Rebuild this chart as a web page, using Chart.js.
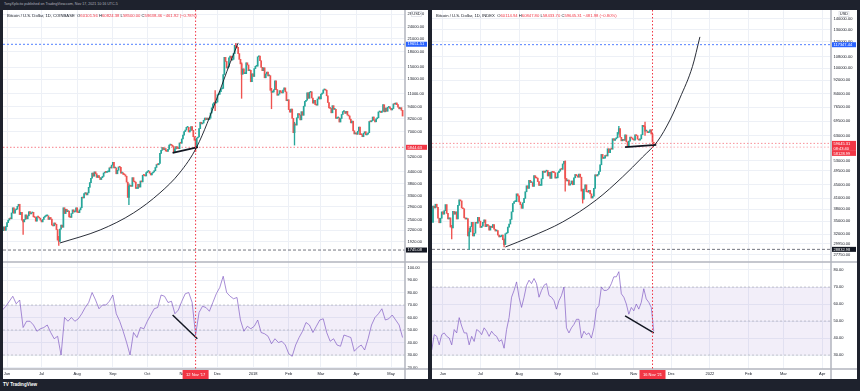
<!DOCTYPE html>
<html>
<head>
<meta charset="utf-8">
<script src="https://cdn.jsdelivr.net/npm/chart.js@4.4.0/dist/chart.umd.min.js"></script>
<style>
body{margin:0;background:#1e222d;width:860px;height:391px;overflow:hidden;position:relative;font-family:"Liberation Sans",Arial,sans-serif}
.credit{position:absolute;left:4px;top:2px;font-size:3.6px;color:#b2b5be;white-space:nowrap}
.panel{position:absolute;top:10px;width:425px;height:369px;background:#fff}
.panel canvas{position:absolute;left:0;top:0}
.legend{position:absolute;left:4px;top:2.6px;font-size:4.2px;color:#131722;white-space:nowrap}
.legend b{font-weight:normal;color:#f23645}
.logo{position:absolute;left:3px;top:382px;font-size:4.6px;color:#fff;font-weight:bold;white-space:nowrap}
</style>
</head>
<body>

<div class="credit">TonyXplicito published on TradingView.com, Nov 17, 2021 10:16 UTC-5</div>

<div class="panel" style="left:3px">
  <canvas id="leftChart" width="425" height="369"></canvas>
  <div class="legend">Bitcoin / U.S. Dollar, 1D, COINBASE&nbsp; O<b>60101.56</b> H<b>60824.38</b> L<b>58500.00</b> C<b>59638.46</b> <b>−461.92 (−0.78%)</b></div>
</div>

<div class="panel" style="left:432px">
  <canvas id="rightChart" width="425" height="369"></canvas>
  <div class="legend">Bitcoin / U.S. Dollar, 1D, INDEX&nbsp; O<b>60114.94</b> H<b>60847.80</b> L<b>58433.70</b> C<b>59645.31</b> <b>−481.98 (−0.80%)</b></div>
</div>

<div class="logo">TV TradingView</div>

<script>
// days are counted from 1 Jun of the panel's first year (day 0)

// ---- left panel: BTCUSD Coinbase, 29 May 2017 - 11 May 2018
const leftFirstDay = -3;
const leftFirstOpen = 2190;
const leftCloses = [
  2290, 2200, 2300,
  2410, 2480, 2530, 2520, 2700, 2870, 2690, 2800, 2820, 2920, 2990, 2650, 2720, 2480, 2430, 2500, 2640, 2520, 2610, 2740, 2670, 2700, 2720, 2580, 2560, 2450, 2580, 2570, 2540, 2480,
  2430, 2500, 2570, 2600, 2610, 2610, 2500, 2560, 2510, 2340, 2320, 2400, 2360, 2220, 1960, 1930, 2230, 2340, 2280, 2870, 2680, 2820, 2740, 2760, 2580, 2560, 2680, 2800, 2730, 2750, 2870,
  2720, 2710, 2800, 2870, 3250, 3220, 3390, 3420, 3340, 3420, 3650, 3860, 4060, 4320, 4160, 4380, 4280, 4100, 4190, 4090, 4000, 4090, 4150, 4320, 4360, 4350, 4380, 4380, 4590, 4580, 4740,
  4900, 4580, 4590, 4280, 4460, 4640, 4620, 4310, 4330, 4250, 4230, 4160, 3880, 3240, 3700, 3700, 3690, 4090, 3910, 3880, 3600, 3600, 3780, 3660, 3930, 3890, 4210, 4200, 4170, 4340,
  4400, 4400, 4310, 4220, 4320, 4370, 4440, 4610, 4770, 4760, 4830, 5440, 5640, 5830, 5690, 5760, 5590, 5570, 5710, 6000, 6010, 5980, 5900, 5510, 5740, 5890, 5770, 5750, 6150, 6130, 6450,
  6750, 7030, 7160, 7390, 7390, 7000, 7120, 7460, 7140, 6620, 6350, 5870, 6520, 6600, 7280, 7850, 7700, 7780, 8040, 8250, 8100, 8240, 8100, 8230, 8750, 9300, 9740, 9900, 9840, 9950,
  10850, 10900, 11250, 11620, 11680, 13750, 16850, 16050, 14850, 15060, 16730, 17080, 16300, 16450, 17600, 19400, 19040, 18950, 17600, 16450, 15600, 13800, 14700, 13900, 13900, 15800, 15400, 14400, 14460, 12640, 13880,
  13440, 14750, 15160, 15180, 16950, 17120, 16180, 14980, 14400, 14900, 13240, 13850, 14180, 13550, 13580, 11430, 11160, 11200, 11510, 12760, 11530, 10780, 10940, 11390, 11170, 11080, 11460, 11760, 11220, 10110, 10230,
  9110, 8830, 9170, 8220, 6940, 7690, 7590, 8270, 8680, 8550, 8070, 8890, 8520, 9480, 10030, 10170, 11100, 10400, 11160, 11230, 10440, 9830, 10160, 9660, 9590, 10320, 10580, 10320,
  10920, 11040, 11480, 11500, 11440, 10710, 9900, 9290, 9230, 8770, 9540, 9130, 9150, 8200, 8260, 8270, 7870, 8200, 8600, 8900, 8900, 8720, 8920, 8540, 8450, 8140, 7790, 7950, 7100, 6840, 6930,
  6810, 7060, 7420, 6790, 6780, 6620, 6900, 7020, 6770, 6830, 6940, 7920, 7890, 8000, 8350, 8060, 7890, 8170, 8280, 8860, 8920, 8800, 8940, 9650, 8870, 9280, 8930, 9350, 9400, 9240,
  9070, 9220, 9740, 9700, 9850, 9650, 9370, 9190, 9320, 9030, 8440
];
const leftWickDays = [14, 45, 106, 164, 181, 199, 204, 230, 250];
const leftWickLows = [2100, 1840, 2980, 5560, 9000, 18750, 10400, 9200, 6000];
const leftWickHighs = [2500, 2050, 3800, 6450, 11400, 19890, 15800, 11700, 7850];

const leftRsiFirstDay = -4;
const leftRsiStep = 3;
const leftRsi = [
  66, 69, 73, 77, 71, 74, 52, 57, 57, 54,
  49, 51, 52, 54, 48, 43, 45, 30, 60, 57,
  60, 57, 59, 63, 68, 72, 80, 74, 67, 70,
  70, 73, 78, 63, 57, 49, 40, 30, 48, 44,
  52, 51, 57, 62, 67, 68, 78, 77, 72, 73,
  63, 66, 73, 79, 80, 72, 46, 64, 69, 68,
  65, 72, 79, 84, 93, 80, 77, 75, 76, 58,
  49, 53, 51, 53, 58, 48, 47, 45, 39, 43,
  40, 41, 38, 31, 29, 38, 44, 49, 56, 54,
  48, 53, 58, 59, 48, 41, 43, 38, 37, 46,
  45, 44, 33, 36, 38, 34, 43, 54, 60, 63,
  67, 58, 59, 62, 58, 54, 44
];

const leftArcDays = [46, 81, 110, 133, 150, 165, 183, 194, 201];
const leftArcValues = [1896, 2210, 2700, 3420, 4320, 5870, 10580, 15780, 19960];
const leftPriceTrendDays = [144, 166];
const leftPriceTrendValues = [5470, 5860];
const leftRsiTrendDays = [144, 165.5];
const leftRsiTrendValues = [62, 43];

const leftLevels = [19651.51, 5844.63, 1745.08];
const leftPriceTicks = [28000, 24000, 21000, 18000, 15000, 13000, 11000, 9400, 8200, 7000, 5200, 4400, 3800, 3300, 2900, 2500, 2200, 1920];
const leftRsiTicks = [20, 30, 40, 50, 60, 70, 80, 90, 100];
const leftMonthDays = [0, 30, 61, 92, 122, 153, 183, 214, 245, 273, 304, 334];
const leftMonthNames = ['Jun', 'Jul', 'Aug', 'Sep', 'Oct', 'Nov', 'Dec', '2018', 'Feb', 'Mar', 'Apr', 'May'];
const leftCrossDay = 164;
const leftCrossLabel = "12 Nov '17";

// ---- right panel: BTCUSD index, 24 May 2021 - 17 Nov 2021
const rightFirstDay = -8;
const rightFirstOpen = 34700;
const rightCloses = [
  38800, 38300, 39300, 38500, 35700, 34600, 35700, 37300,
  36700, 37600, 39200, 36900, 35500, 35800, 33600, 33400, 37400, 36700, 37300, 35500, 39000, 40500, 40200, 38300, 38100, 35800, 35500, 35600, 31600, 32500, 33700, 34700, 31600, 32200, 34700, 34500, 35900, 35000,
  33500, 33800, 34700, 35300, 33700, 34200, 33900, 32900, 33800, 33500, 34200, 33100, 32700, 32800, 31800, 31400, 31500, 31800, 30800, 29800, 32100, 32300, 33600, 34300, 35400, 37300, 39500, 40000, 40000, 42200, 41600,
  39900, 39200, 38200, 39700, 40900, 42800, 44600, 43800, 46300, 45600, 45600, 44400, 47800, 47100, 47000, 45900, 44700, 44700, 46800, 49300, 48900, 49300, 49500, 47700, 48900, 46900, 49100, 48900, 48800, 47000, 47100,
  48800, 49300, 50000, 49900, 51800, 52700, 46900, 46100, 46400, 44800, 45200, 46100, 44900, 47100, 48200, 47800, 47300, 48300, 47300, 43000, 40700, 43600, 44900, 42800, 42700, 43200, 42200, 41000, 41500, 43800,
  48100, 47700, 48200, 49200, 51500, 55300, 53800, 53900, 54900, 54700, 57500, 56000, 57400, 57300, 61600, 60900, 61500, 62000, 64300, 66000, 62200, 60700, 61300, 60900, 63200, 60300, 58500, 60600, 62300, 61900, 61300,
  61000, 63200, 62900, 61400, 61000, 61500, 63300, 67500, 66900, 64900, 64900, 64200, 64400, 65500, 63600, 60115, 59645
];
const rightWickDays = [7, 21, 49, 98, 112, 141, 162];
const rightWickLows = [31000, 28800, 29300, 43000, 39600, 63500, 63000];
const rightWickHighs = [34000, 33300, 31000, 52900, 43600, 67000, 69000];

const rightRsiFirstDay = -9;
const rightRsiStep = 2;
const rightRsi = [
  33, 42, 41, 36, 42, 43, 41, 40, 36, 45,
  43, 52, 47, 43, 43, 36, 41, 38, 45, 44,
  42, 46, 44, 41, 44, 42, 41, 38, 39, 34,
  45, 52, 64, 68, 73, 64, 58, 64, 71, 74,
  72, 75, 72, 64, 68, 71, 72, 65, 64, 62,
  57, 62, 65, 70, 46, 43, 46, 48, 51, 51,
  40, 44, 42, 43, 40, 46, 57, 59, 70, 68,
  68, 69, 72, 76, 76, 79, 66, 64, 60, 54,
  58, 56, 60, 57, 61, 69, 63, 61, 58, 44
];

const rightArcDays = [50, 70, 96, 123, 144, 160, 172, 182, 190, 200, 206];
const rightArcValues = [29300, 31400, 34800, 40500, 47400, 54300, 60500, 70000, 81400, 101000, 123800];
const rightPriceTrendDays = [146, 171];
const rightPriceTrendValues = [58150, 59000];
const rightRsiTrendDays = [146, 169];
const rightRsiTrendValues = [53, 43];

const rightLevels = [117347.44, 59645.31, 58128.99, 28832.98];
const rightCountdown = '08:43:40';
const rightPriceTicks = [140000, 130000, 120000, 108000, 100000, 92000, 84000, 76500, 69500, 63000, 53000, 49500, 45000, 41000, 38000, 35000, 32000, 29950, 27750];
const rightRsiTicks = [30, 40, 50, 60, 70, 80];
const rightMonthDays = [0, 30, 61, 92, 122, 153, 183, 214, 245, 273, 304];
const rightMonthNames = ['Jun', 'Jul', 'Aug', 'Sep', 'Oct', 'Nov', 'Dec', '2022', 'Feb', 'Mar', 'Apr'];
const rightCrossDay = 168;
const rightCrossLabel = "16 Nov '21";

const rsiBand = [30, 70];
const rsiLevels = [70, 50, 30];


const FONT = '"Liberation Sans", Arial, sans-serif';
const UP = '#26a69a';
const DOWN = '#ef5350';
const GRID = '#edf0f6';
const BLUE = '#2962ff';
const RED = '#f23645';
const INK = '#131722';

const overlay = {
  id: 'overlay',
  afterDraw(chart, args, o) {
    const ctx = chart.ctx;
    const a = chart.chartArea;
    const yp = chart.scales.yPrice;
    const x = chart.scales.x;
    ctx.save();

    ctx.strokeStyle = '#b2b5be';
    ctx.lineWidth = 1.5;
    ctx.beginPath();
    ctx.moveTo(a.left, yp.bottom); ctx.lineTo(chart.width, yp.bottom);
    ctx.moveTo(a.left, a.bottom); ctx.lineTo(chart.width, a.bottom);
    ctx.moveTo(a.right, 0); ctx.lineTo(a.right, chart.height);
    ctx.stroke();

    // crosshair date
    const cx = x.getPixelForValue(o.crossDay);
    ctx.strokeStyle = RED;
    ctx.lineWidth = 1;
    ctx.setLineDash([1.5, 2]);
    ctx.beginPath(); ctx.moveTo(cx, 0); ctx.lineTo(cx, a.bottom); ctx.stroke();
    ctx.setLineDash([]);
    ctx.font = '4px ' + FONT;
    const tw = ctx.measureText(o.crossLabel).width + 7;
    ctx.fillStyle = RED;
    ctx.fillRect(cx - tw / 2, a.bottom + 1, tw, chart.height - a.bottom - 1);
    ctx.fillStyle = '#fff';
    ctx.textAlign = 'center';
    ctx.textBaseline = 'middle';
    ctx.fillText(o.crossLabel, cx, (a.bottom + chart.height) / 2 + 0.5);

    // price tags on the scale
    let floor = -Infinity;
    ctx.textAlign = 'left';
    o.tags.forEach(t => {
      const h = 5 * t.lines.length;
      const top = Math.max(yp.getPixelForValue(t.value) - 2.5, floor);
      ctx.fillStyle = t.color;
      ctx.fillRect(a.right + 1, top, chart.width - a.right - 2, h);
      ctx.fillStyle = '#fff';
      t.lines.forEach((s, j) => ctx.fillText(s, a.right + 2.5, top + 2.6 + 5 * j));
      floor = top + h;
    });

    // currency box
    const mid = (a.right + chart.width) / 2;
    ctx.fillStyle = '#fff';
    ctx.strokeStyle = '#d1d4dc';
    ctx.lineWidth = 0.6;
    ctx.fillRect(mid - 5, 1.5, 10, 5);
    ctx.strokeRect(mid - 5, 1.5, 10, 5);
    ctx.fillStyle = INK;
    ctx.textAlign = 'center';
    ctx.fillText('USD', mid, 4.1);
    ctx.restore();
  }
};

function flat(v, range) {
  return [{ x: range[0], y: v }, { x: range[1], y: v }];
}

function pairs(xs, ys) {
  return xs.map((d, i) => ({ x: d, y: ys[i] }));
}

function makePanel(id, p) {
  const opens = p.closes.map((c, i) => i ? p.closes[i - 1] : p.firstOpen);
  const colorAt = i => p.closes[i] >= opens[i] ? UP : DOWN;
  const bodies = p.closes.map((c, i) => ({ x: p.firstDay + i, y: [opens[i], c] }));
  const wicks = p.wickDays.map((d, i) => ({ x: d, y: [p.wickLows[i], p.wickHighs[i]] }));
  const rsi = p.rsi.map((v, i) => ({ x: p.rsiFirstDay + p.rsiStep * i, y: v }));

  const datasets = [];
  datasets.push({
    type: 'line', yAxisID: 'yRsi', data: flat(rsiBand[1], p.xRange),
    borderWidth: 0, pointRadius: 0, fill: { value: rsiBand[0] },
    backgroundColor: 'rgba(126,87,194,0.1)', order: 30
  });
  rsiLevels.forEach(v => datasets.push({
    type: 'line', yAxisID: 'yRsi', data: flat(v, p.xRange),
    borderColor: 'rgba(120,123,134,0.45)', borderWidth: 0.8, borderDash: [2, 2],
    pointRadius: 0, fill: false, order: 29
  }));
  p.levels.forEach((v, i) => datasets.push({
    type: 'line', yAxisID: 'yPrice', data: flat(v, p.xRange),
    borderColor: p.levelStyles[i].color, borderWidth: 0.8, borderDash: p.levelStyles[i].dash,
    pointRadius: 0, fill: false, order: 28
  }));
  datasets.push({
    type: 'bar', yAxisID: 'yPrice', data: wicks, grouped: false, barThickness: 0.7,
    backgroundColor: ctx => ctx.raw ? colorAt(ctx.raw.x - p.firstDay) : UP, order: 11
  });
  datasets.push({
    type: 'bar', yAxisID: 'yPrice', data: bodies, grouped: false, barThickness: 1.1, minBarLength: 1,
    backgroundColor: ctx => ctx.raw ? colorAt(ctx.dataIndex) : UP, order: 10
  });
  datasets.push({
    type: 'line', yAxisID: 'yRsi', data: rsi, borderColor: 'rgba(126,87,194,0.75)',
    borderWidth: 0.9, pointRadius: 0, fill: false, order: 9
  });
  datasets.push({
    type: 'line', yAxisID: 'yPrice', data: pairs(p.arcDays, p.arcValues), borderColor: INK,
    borderWidth: 0.9, pointRadius: 0, fill: false, cubicInterpolationMode: 'monotone', order: 3
  });
  datasets.push({
    type: 'line', yAxisID: 'yPrice', data: pairs(p.priceTrendDays, p.priceTrendValues), borderColor: INK,
    borderWidth: 1.8, pointRadius: 0, fill: false, order: 2
  });
  datasets.push({
    type: 'line', yAxisID: 'yRsi', data: pairs(p.rsiTrendDays, p.rsiTrendValues), borderColor: INK,
    borderWidth: 1.5, pointRadius: 0, fill: false, order: 1
  });

  const tickFont = { family: FONT, size: 4 };
  const fixTicks = list => s => { s.ticks = list.map(v => ({ value: v })); };

  new Chart(document.getElementById(id), {
    type: 'line',
    data: { datasets: datasets },
    plugins: [overlay],
    options: {
      responsive: false,
      animation: false,
      devicePixelRatio: 1,
      events: [],
      layout: { padding: 0 },
      plugins: {
        legend: { display: false },
        tooltip: { enabled: false },
        overlay: { crossDay: p.crossDay, crossLabel: p.crossLabel, tags: p.tags }
      },
      scales: {
        x: {
          type: 'linear', min: p.xRange[0], max: p.xRange[1], offset: false,
          grid: { color: GRID, offset: false, drawTicks: true, tickLength: 2.5, tickColor: 'rgba(0,0,0,0)' },
          border: { display: false },
          ticks: { autoSkip: false, maxRotation: 0, padding: 0, color: INK, font: tickFont,
                   callback: (v, i) => p.monthNames[i] },
          afterBuildTicks: fixTicks(p.monthDays),
          afterFit: s => { s.height = 10; s.paddingLeft = 0; s.paddingRight = 0; }
        },
        yPrice: {
          type: 'logarithmic', position: 'right', stack: 'pane', stackWeight: 252,
          min: p.priceRange[0], max: p.priceRange[1],
          grid: { color: GRID, drawTicks: false },
          border: { display: false },
          ticks: { autoSkip: false, padding: 2.5, color: INK, font: tickFont, callback: v => v.toFixed(2) },
          afterBuildTicks: fixTicks(p.priceTicks),
          afterFit: s => { s.width = p.axisWidth; s.paddingTop = 0; s.paddingBottom = 0; }
        },
        yRsi: {
          type: 'linear', position: 'right', stack: 'pane', stackWeight: 107,
          min: p.rsiRange[0], max: p.rsiRange[1],
          grid: { color: GRID, drawTicks: false },
          border: { display: false },
          ticks: { autoSkip: false, padding: 2.5, color: INK, font: tickFont, callback: v => v.toFixed(2) },
          afterBuildTicks: fixTicks(p.rsiTicks),
          afterFit: s => { s.width = p.axisWidth; s.paddingTop = 0; s.paddingBottom = 0; }
        }
      }
    }
  });
}

makePanel('leftChart', {
  firstDay: leftFirstDay, firstOpen: leftFirstOpen, closes: leftCloses,
  wickDays: leftWickDays, wickLows: leftWickLows, wickHighs: leftWickHighs,
  rsiFirstDay: leftRsiFirstDay, rsiStep: leftRsiStep, rsi: leftRsi,
  arcDays: leftArcDays, arcValues: leftArcValues,
  priceTrendDays: leftPriceTrendDays, priceTrendValues: leftPriceTrendValues,
  rsiTrendDays: leftRsiTrendDays, rsiTrendValues: leftRsiTrendValues,
  levels: leftLevels,
  levelStyles: [{ color: BLUE, dash: [2, 2] }, { color: 'rgba(242,54,69,0.8)', dash: [1.5, 2] }, { color: '#50535e', dash: [3, 2] }],
  tags: [
    { value: leftLevels[0], lines: [leftLevels[0].toFixed(2)], color: BLUE },
    { value: leftLevels[1], lines: [leftLevels[1].toFixed(2)], color: RED },
    { value: leftLevels[2], lines: [leftLevels[2].toFixed(2)], color: INK }
  ],
  priceTicks: leftPriceTicks, rsiTicks: leftRsiTicks,
  monthDays: leftMonthDays, monthNames: leftMonthNames,
  crossDay: leftCrossDay, crossLabel: leftCrossLabel,
  xRange: [-3.5, 346.1], priceRange: [1516, 29400], rsiRange: [18.8, 104.4], axisWidth: 23
});

makePanel('rightChart', {
  firstDay: rightFirstDay, firstOpen: rightFirstOpen, closes: rightCloses,
  wickDays: rightWickDays, wickLows: rightWickLows, wickHighs: rightWickHighs,
  rsiFirstDay: rightRsiFirstDay, rsiStep: rightRsiStep, rsi: rightRsi,
  arcDays: rightArcDays, arcValues: rightArcValues,
  priceTrendDays: rightPriceTrendDays, priceTrendValues: rightPriceTrendValues,
  rsiTrendDays: rightRsiTrendDays, rsiTrendValues: rightRsiTrendValues,
  levels: rightLevels,
  levelStyles: [{ color: BLUE, dash: [2, 2] }, { color: 'rgba(242,54,69,0.7)', dash: [1.5, 2] },
                { color: 'rgba(242,54,69,0.5)', dash: [1.5, 2] }, { color: '#50535e', dash: [3, 2] }],
  tags: [
    { value: rightLevels[0], lines: [rightLevels[0].toFixed(2)], color: BLUE },
    { value: rightLevels[1], lines: [rightLevels[1].toFixed(2), rightCountdown], color: RED },
    { value: rightLevels[2], lines: [rightLevels[2].toFixed(2)], color: RED },
    { value: rightLevels[3], lines: [rightLevels[3].toFixed(2)], color: INK }
  ],
  priceTicks: rightPriceTicks, rsiTicks: rightRsiTicks,
  monthDays: rightMonthDays, monthNames: rightMonthNames,
  crossDay: rightCrossDay, crossLabel: rightCrossLabel,
  xRange: [-8.8, 311.1], priceRange: [26440, 148900], rsiRange: [21.8, 84.7], axisWidth: 26
});
</script>
</body>
</html>
